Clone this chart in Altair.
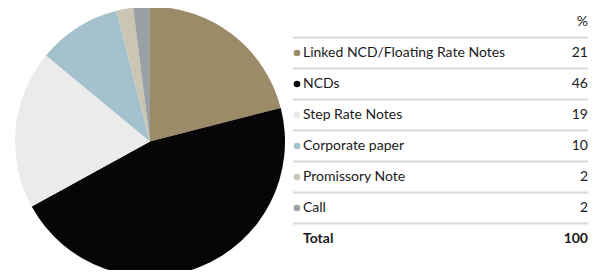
import altair as alt
import pandas as pd

categories = ["Linked NCD/Floating Rate Notes", "NCDs", "Step Rate Notes",
              "Corporate paper", "Promissory Note", "Call"]
values = [21, 46, 19, 10, 2, 2]
colors = ["#9c8b69", "#060606", "#ebebea", "#a5c1ce", "#cbc6b3", "#9aa0a4"]
total_label = "Total"
total_value = 100
header = "%"

df = pd.DataFrame({
    "cat": categories,
    "value": values,
    "idx": list(range(len(categories))),
    "row": [i + 1 for i in range(len(categories))],
})
df["label"] = df["value"].astype(str)

color_scale = alt.Scale(domain=categories, range=colors)
yscale = alt.Scale(domain=[0, 7], range=[14, 231])

FONT = "Lato"
FS = 14

pie = alt.Chart(df).mark_arc(outerRadius=135).encode(
    theta=alt.Theta("value:Q", stack=True),
    order=alt.Order("idx:Q"),
    color=alt.Color("cat:N", scale=color_scale, legend=None),
    x=alt.value(142),
    y=alt.value(133.5),
)

lines_df = pd.DataFrame({"pos": [i + 0.5 for i in range(7)]})
rules = alt.Chart(lines_df).mark_rule(color="#d9d9d9", strokeWidth=2).encode(
    y=alt.Y("pos:Q", scale=yscale, axis=None),
    x=alt.value(285),
    x2=alt.value(580),
)

dots = alt.Chart(df).mark_point(filled=True, size=44, opacity=1, shape="circle").encode(
    y=alt.Y("row:Q", scale=yscale, axis=None),
    x=alt.value(289),
    color=alt.Color("cat:N", scale=color_scale, legend=None),
)

names = alt.Chart(df).mark_text(align="left", baseline="middle", font=FONT,
                                fontSize=FS, color="#1a1a1a").encode(
    y=alt.Y("row:Q", scale=yscale, axis=None),
    x=alt.value(295),
    text="cat:N",
)

nums = alt.Chart(df).mark_text(align="right", baseline="middle", font=FONT,
                               fontSize=FS, color="#1a1a1a").encode(
    y=alt.Y("row:Q", scale=yscale, axis=None),
    x=alt.value(580),
    text="label:N",
)

extra_df = pd.DataFrame({
    "row": [0, 7, 7],
    "text": [header, total_label, str(total_value)],
    "col": ["right", "left", "right"],
})

hdr = alt.Chart(extra_df[extra_df["row"] == 0]).mark_text(
    align="right", baseline="middle", font=FONT, fontSize=FS, color="#1a1a1a").encode(
    y=alt.Y("row:Q", scale=yscale, axis=None),
    x=alt.value(580),
    text="text:N",
)

tot_l = alt.Chart(extra_df[(extra_df["row"] == 7) & (extra_df["col"] == "left")]).mark_text(
    align="left", baseline="middle", font=FONT, fontSize=FS, fontWeight="bold", color="#1a1a1a").encode(
    y=alt.Y("row:Q", scale=yscale, axis=None),
    x=alt.value(295),
    text="text:N",
)

tot_r = alt.Chart(extra_df[(extra_df["row"] == 7) & (extra_df["col"] == "right")]).mark_text(
    align="right", baseline="middle", font=FONT, fontSize=FS, fontWeight="bold", color="#1a1a1a").encode(
    y=alt.Y("row:Q", scale=yscale, axis=None),
    x=alt.value(580),
    text="text:N",
)

chart = alt.layer(pie, rules, dots, names, nums, hdr, tot_l, tot_r).properties(
    width=588, height=262,
    autosize=alt.AutoSizeParams(type="none"),
    padding=0,
).configure_view(stroke=None)

chart.save("out.html", embed_options={"renderer": "svg", "actions": False})
